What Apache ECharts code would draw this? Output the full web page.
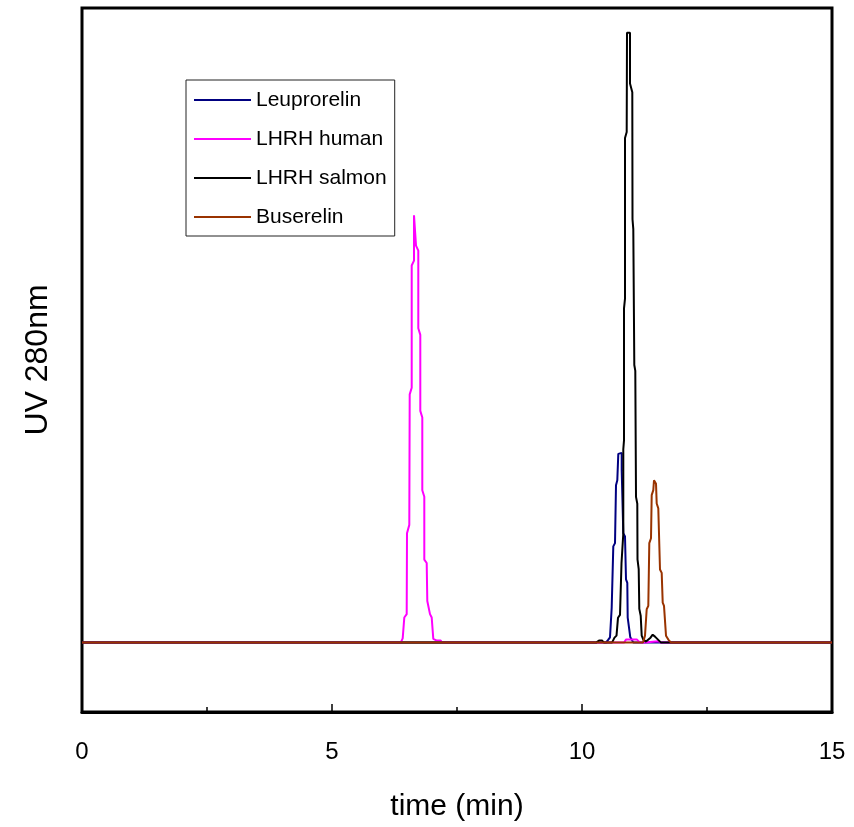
<!DOCTYPE html>
<html>
<head>
<meta charset="utf-8">
<script src="https://cdn.jsdelivr.net/npm/echarts@6/dist/echarts.min.js"></script>
<style>
  html, body { margin: 0; padding: 0; background: #fff; overflow: hidden; }
  #root { width: 854px; height: 827px; }
</style>
</head>
<body>
<div id="root"></div>
<script>
// chromatogram traces, time in min / UV signal in arbitrary units
const seriesNames = ["Leuprorelin", "LHRH human", "LHRH salmon", "Buserelin"];
const seriesColors = ["#000080", "#FF00FF", "#000000", "#993300"];

const leuproTime = [0, 10.48, 10.526, 10.56, 10.594, 10.626, 10.626, 10.66, 10.68, 10.706, 10.726, 10.794, 10.794, 10.826, 10.86, 10.88, 10.906, 10.914, 10.946, 10.966, 10.994, 11.026, 15];
const leuproUV = [0, 0, 0.43, 0.76, 5.04, 5.29, 13.86, 14.33, 22.67, 23.39, 27.19, 27.33, 24.81, 15.76, 15.29, 9.1, 8.61, 3.61, 3.39, 0.76, 0.43, 0, 0];

const humanTime = [0, 6.374, 6.414, 6.446, 6.446, 6.494, 6.5, 6.546, 6.554, 6.594, 6.594, 6.64, 6.64, 6.68, 6.68, 6.726, 6.726, 6.766, 6.766, 6.806, 6.806, 6.846, 6.846, 6.894, 6.906, 6.946, 6.96, 6.994, 7.026, 7.094, 7.174, 7.2, 10.84, 10.88, 11.1, 11.16, 11.26, 11.3, 11.52, 11.58, 15];
const humanUV = [0, 0, 0.61, 0.76, 3.61, 4.1, 15.76, 16.96, 35.76, 36.71, 54.33, 55.04, 61.57, 61.57, 57.19, 56.47, 45.29, 44.33, 33.39, 32.43, 21.96, 21.0, 11.96, 11.47, 6.0, 5.76, 4.1, 3.61, 0.53, 0.29, 0.29, 0, 0, 0.43, 0.43, 0, 0, 0.21, 0.21, 0, 0];

const salmonTime = [0, 10.28, 10.34, 10.4, 10.44, 10.6, 10.65, 10.69, 10.72, 10.76, 10.79, 10.826, 10.826, 10.84, 10.84, 10.86, 10.86, 10.894, 10.9, 10.96, 10.96, 11.006, 11.01, 11.026, 11.046, 11.066, 11.08, 11.106, 11.11, 11.134, 11.146, 11.174, 11.194, 11.226, 11.28, 11.32, 11.37, 11.414, 11.46, 11.52, 11.58, 15];
const salmonUV = [0, 0, 0.29, 0.29, 0, 0, 0.71, 1.0, 3.57, 4.0, 11.43, 15.71, 27.86, 29.14, 48.14, 49.57, 72.71, 73.57, 87.86, 87.86, 80.57, 79.29, 61.0, 59.57, 40.0, 39.14, 21.0, 20.0, 12.0, 10.57, 4.86, 3.86, 1.0, 0.43, 0.14, 0.29, 0.71, 1.14, 0.86, 0.43, 0, 0];

const buseTime = [0, 11.22, 11.26, 11.294, 11.326, 11.346, 11.38, 11.394, 11.426, 11.44, 11.46, 11.48, 11.494, 11.526, 11.56, 11.594, 11.614, 11.64, 11.68, 11.726, 11.78, 15];
const buseUV = [0, 0, 1.0, 4.81, 5.29, 14.33, 15.04, 21.24, 21.96, 23.39, 23.57, 22.9, 20.04, 19.33, 10.53, 10.04, 5.76, 5.29, 1.0, 0.43, 0, 0];

const xTicks = [0, 5, 10, 15];

(function () {
  const zip = (t, v) => t.map((x, i) => [x, v[i]]);
  const traces = [
    zip(leuproTime, leuproUV),
    zip(humanTime, humanUV),
    zip(salmonTime, salmonUV),
    zip(buseTime, buseUV),
  ];
  const font = "'Liberation Sans', Arial, sans-serif";

  const myChart = echarts.init(document.getElementById("root"), null, { renderer: "canvas" });
  const option = {
    animation: false,
    backgroundColor: "#fff",
    textStyle: { fontFamily: font },
    grid: {
      left: 82, right: 22, top: 8, bottom: 110,
      show: true, borderColor: "#000", borderWidth: 3,
    },
    legend: {
      data: seriesNames,
      orient: "vertical",
      left: 186, top: 80,
      icon: "rect",
      itemWidth: 57, itemHeight: 2,
      itemGap: 15,
      padding: [8, 8, 7, 8],
      borderColor: "#222", borderWidth: 1,
      textStyle: { fontSize: 21, lineHeight: 24, color: "#000", fontFamily: font },
    },
    xAxis: {
      type: "value",
      min: xTicks[0], max: xTicks[xTicks.length - 1], interval: 5,
      name: "time (min)",
      nameLocation: "middle",
      nameGap: 80,
      nameTextStyle: { fontSize: 30, color: "#000", fontFamily: font },
      axisLine: { show: true, onZero: false, lineStyle: { color: "#000", width: 3 } },
      axisTick: { show: true, inside: true, length: 8, lineStyle: { color: "#000", width: 1.5 } },
      minorTick: { show: true, splitNumber: 2, length: 5, lineStyle: { color: "#000", width: 1.5 } },
      axisLabel: { fontSize: 24, color: "#000", margin: 28, fontFamily: font },
      splitLine: { show: false },
    },
    yAxis: {
      type: "value",
      min: -10, max: 91.43,
      name: "UV 280nm",
      nameLocation: "middle",
      nameGap: 28,
      nameTextStyle: { fontSize: 32, color: "#000", fontFamily: font },
      axisLine: { show: false },
      axisTick: { show: false },
      axisLabel: { show: false },
      splitLine: { show: false },
    },
    series: seriesNames.map((name, i) => ({
      name,
      type: "line",
      data: traces[i],
      symbol: "none",
      color: seriesColors[i],
      lineStyle: { color: seriesColors[i], width: 2 },
    })),
  };
  myChart.setOption(option);
})();
</script>
</body>
</html>
